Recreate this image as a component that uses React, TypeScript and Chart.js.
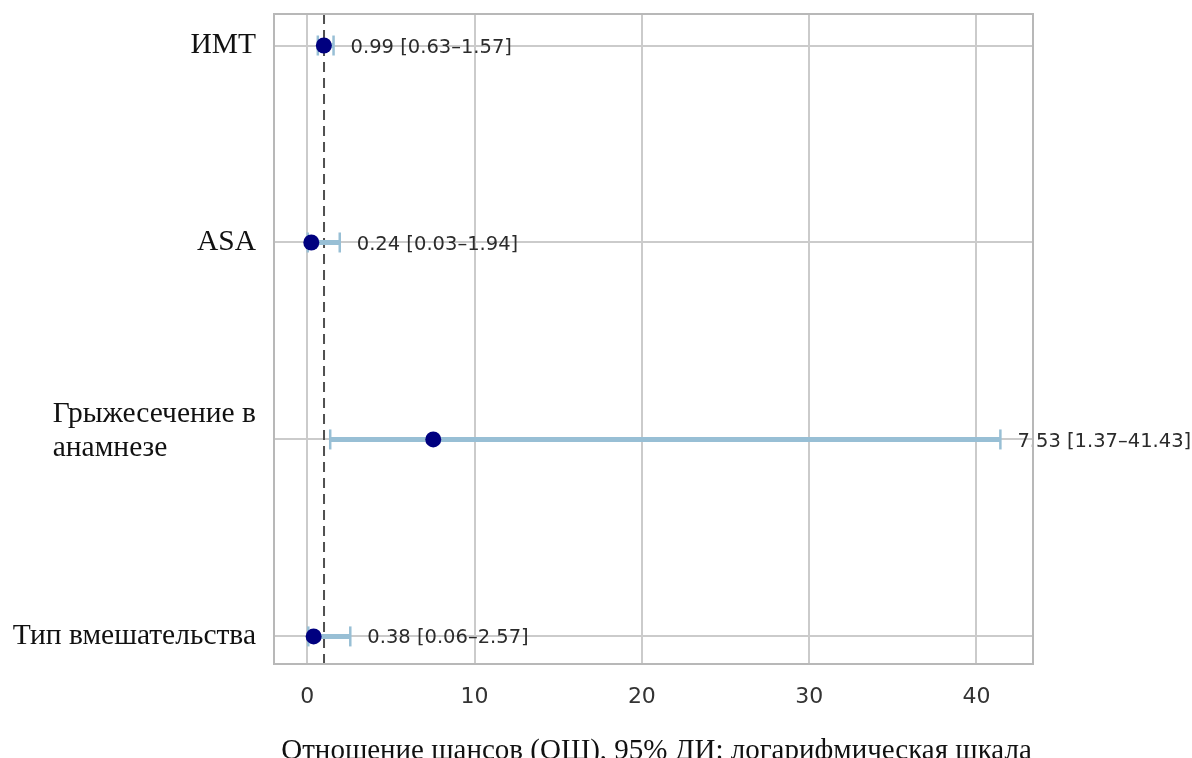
import React, { useEffect, useRef } from "react";
import { Chart, registerables } from "chart.js";

Chart.register(...registerables);

const categories: string[] = ["ИМТ", "ASA", "Грыжесечение в\nанамнезе", "Тип вмешательства"];
const oddsRatio: number[] = [0.99, 0.24, 7.53, 0.38];
const ciLower: number[] = [0.63, 0.03, 1.37, 0.06];
const ciUpper: number[] = [1.57, 1.94, 41.43, 2.57];
const xTickValues: number[] = [0, 10, 20, 30, 40];
const referenceValue = 1;
const xAxisTitle = "Отношение шансов (ОШ), 95% ДИ: логарифмическая шкала";

const CI_COLOR = "#98bfd5";
const POINT_COLOR = "#00007f";
const SERIF = "'Liberation Serif', 'Times New Roman', serif";
const SANS = "'DejaVu Sans', sans-serif";

const forestPlugin = {
  id: "forestExtras",
  beforeDatasetsDraw(chart: any) {
    const { ctx, chartArea, scales } = chart;
    const x = scales.x.getPixelForValue(referenceValue);
    ctx.save();
    ctx.strokeStyle = "#505050";
    ctx.lineWidth = 2;
    ctx.setLineDash([10, 6]);
    ctx.beginPath();
    ctx.moveTo(x, chartArea.top);
    ctx.lineTo(x, chartArea.bottom);
    ctx.stroke();
    ctx.restore();
  },
  afterDatasetsDraw(chart: any) {
    const { ctx, chartArea, scales } = chart;
    ctx.save();
    // annotations
    ctx.font = `19.5px ${SANS}`;
    ctx.fillStyle = "#2b2b2b";
    ctx.textAlign = "left";
    ctx.textBaseline = "middle";
    categories.forEach((_, i) => {
      const px = scales.x.getPixelForValue(ciUpper[i]) + 17;
      const py = scales.y.getPixelForValue(i) + 2;
      const txt = `${oddsRatio[i].toFixed(2)} [${ciLower[i].toFixed(2)}–${ciUpper[i].toFixed(2)}]`;
      ctx.fillText(txt, px, py);
    });
    // frame
    ctx.strokeStyle = "#b8b8b8";
    ctx.lineWidth = 2;
    ctx.setLineDash([]);
    ctx.strokeRect(chartArea.left, chartArea.top, chartArea.right - chartArea.left, chartArea.bottom - chartArea.top);
    // y labels
    ctx.font = `29.5px ${SERIF}`;
    ctx.fillStyle = "#111111";
    ctx.textAlign = "left";
    ctx.textBaseline = "middle";
    const rightEdge = chartArea.left - 18;
    const lineH = 34;
    categories.forEach((label, i) => {
      const lines = label.split("\n");
      const w = Math.max(...lines.map((l) => ctx.measureText(l).width));
      const cy = scales.y.getPixelForValue(i) - (lines.length > 1 ? 8 : 0);
      const startY = cy - ((lines.length - 1) * lineH) / 2;
      lines.forEach((l, k) => {
        ctx.fillText(l, rightEdge - w, startY + k * lineH);
      });
    });
    // x title
    ctx.font = `29px ${SERIF}`;
    ctx.textAlign = "center";
    ctx.fillText(xAxisTitle, (chartArea.left + chartArea.right) / 2 + 3, 751);
    ctx.restore();
  },
};

export default function App() {
  const canvasRef = useRef<HTMLCanvasElement | null>(null);

  useEffect(() => {
    if (!canvasRef.current) return;
    const ciDatasets = categories.map((_, i) => ({
      label: "ci" + i,
      data: [
        { x: ciLower[i], y: i },
        { x: ciUpper[i], y: i },
      ],
      showLine: true,
      borderColor: CI_COLOR,
      borderWidth: 5,
      pointStyle: "line",
      pointRotation: 90,
      pointRadius: 10,
      pointBorderWidth: 2.5,
      pointBorderColor: CI_COLOR,
      pointBackgroundColor: CI_COLOR,
      order: 1,
    }));
    const chart = new Chart(canvasRef.current, {
      type: "scatter",
      data: {
        datasets: [
          {
            label: "OR",
            data: categories.map((_, i) => ({ x: oddsRatio[i], y: i })),
            backgroundColor: POINT_COLOR,
            borderColor: POINT_COLOR,
            pointRadius: 8,
            borderWidth: 0,
            order: 0,
          },
          ...ciDatasets,
        ],
      } as any,
      options: {
        animation: false,
        responsive: false,
        devicePixelRatio: 1,
        layout: { padding: { left: 0, top: 14, right: 159, bottom: 0 } },
        plugins: { legend: { display: false }, tooltip: { enabled: false } },
        scales: {
          x: {
            type: "linear",
            min: -1.99,
            max: 43.38,
            afterBuildTicks: (scale: any) => {
              scale.ticks = xTickValues.map((v) => ({ value: v }));
            },
            afterFit: (scale: any) => {
              scale.height = 94;
            },
            grid: { color: "#cbcbcb", lineWidth: 2, drawTicks: false },
            border: { display: false },
            ticks: {
              padding: 20,
              color: "#333333",
              font: { family: "DejaVu Sans", size: 22 },
              maxRotation: 0,
            },
          },
          y: {
            type: "linear",
            reverse: true,
            min: -0.16,
            max: 3.14,
            afterBuildTicks: (scale: any) => {
              scale.ticks = categories.map((_, i) => ({ value: i }));
            },
            afterFit: (scale: any) => {
              scale.width = 274;
            },
            grid: { color: "#cbcbcb", lineWidth: 2, drawTicks: false },
            border: { display: false },
            ticks: { display: false },
          },
        },
      } as any,
      plugins: [forestPlugin],
    });
    return () => chart.destroy();
  }, []);

  return (
    <div style={{ position: "fixed", left: 0, top: 0, width: 1192, height: 758, background: "#ffffff" }}>
      <canvas ref={canvasRef} width={1192} height={758} />
    </div>
  );
}
